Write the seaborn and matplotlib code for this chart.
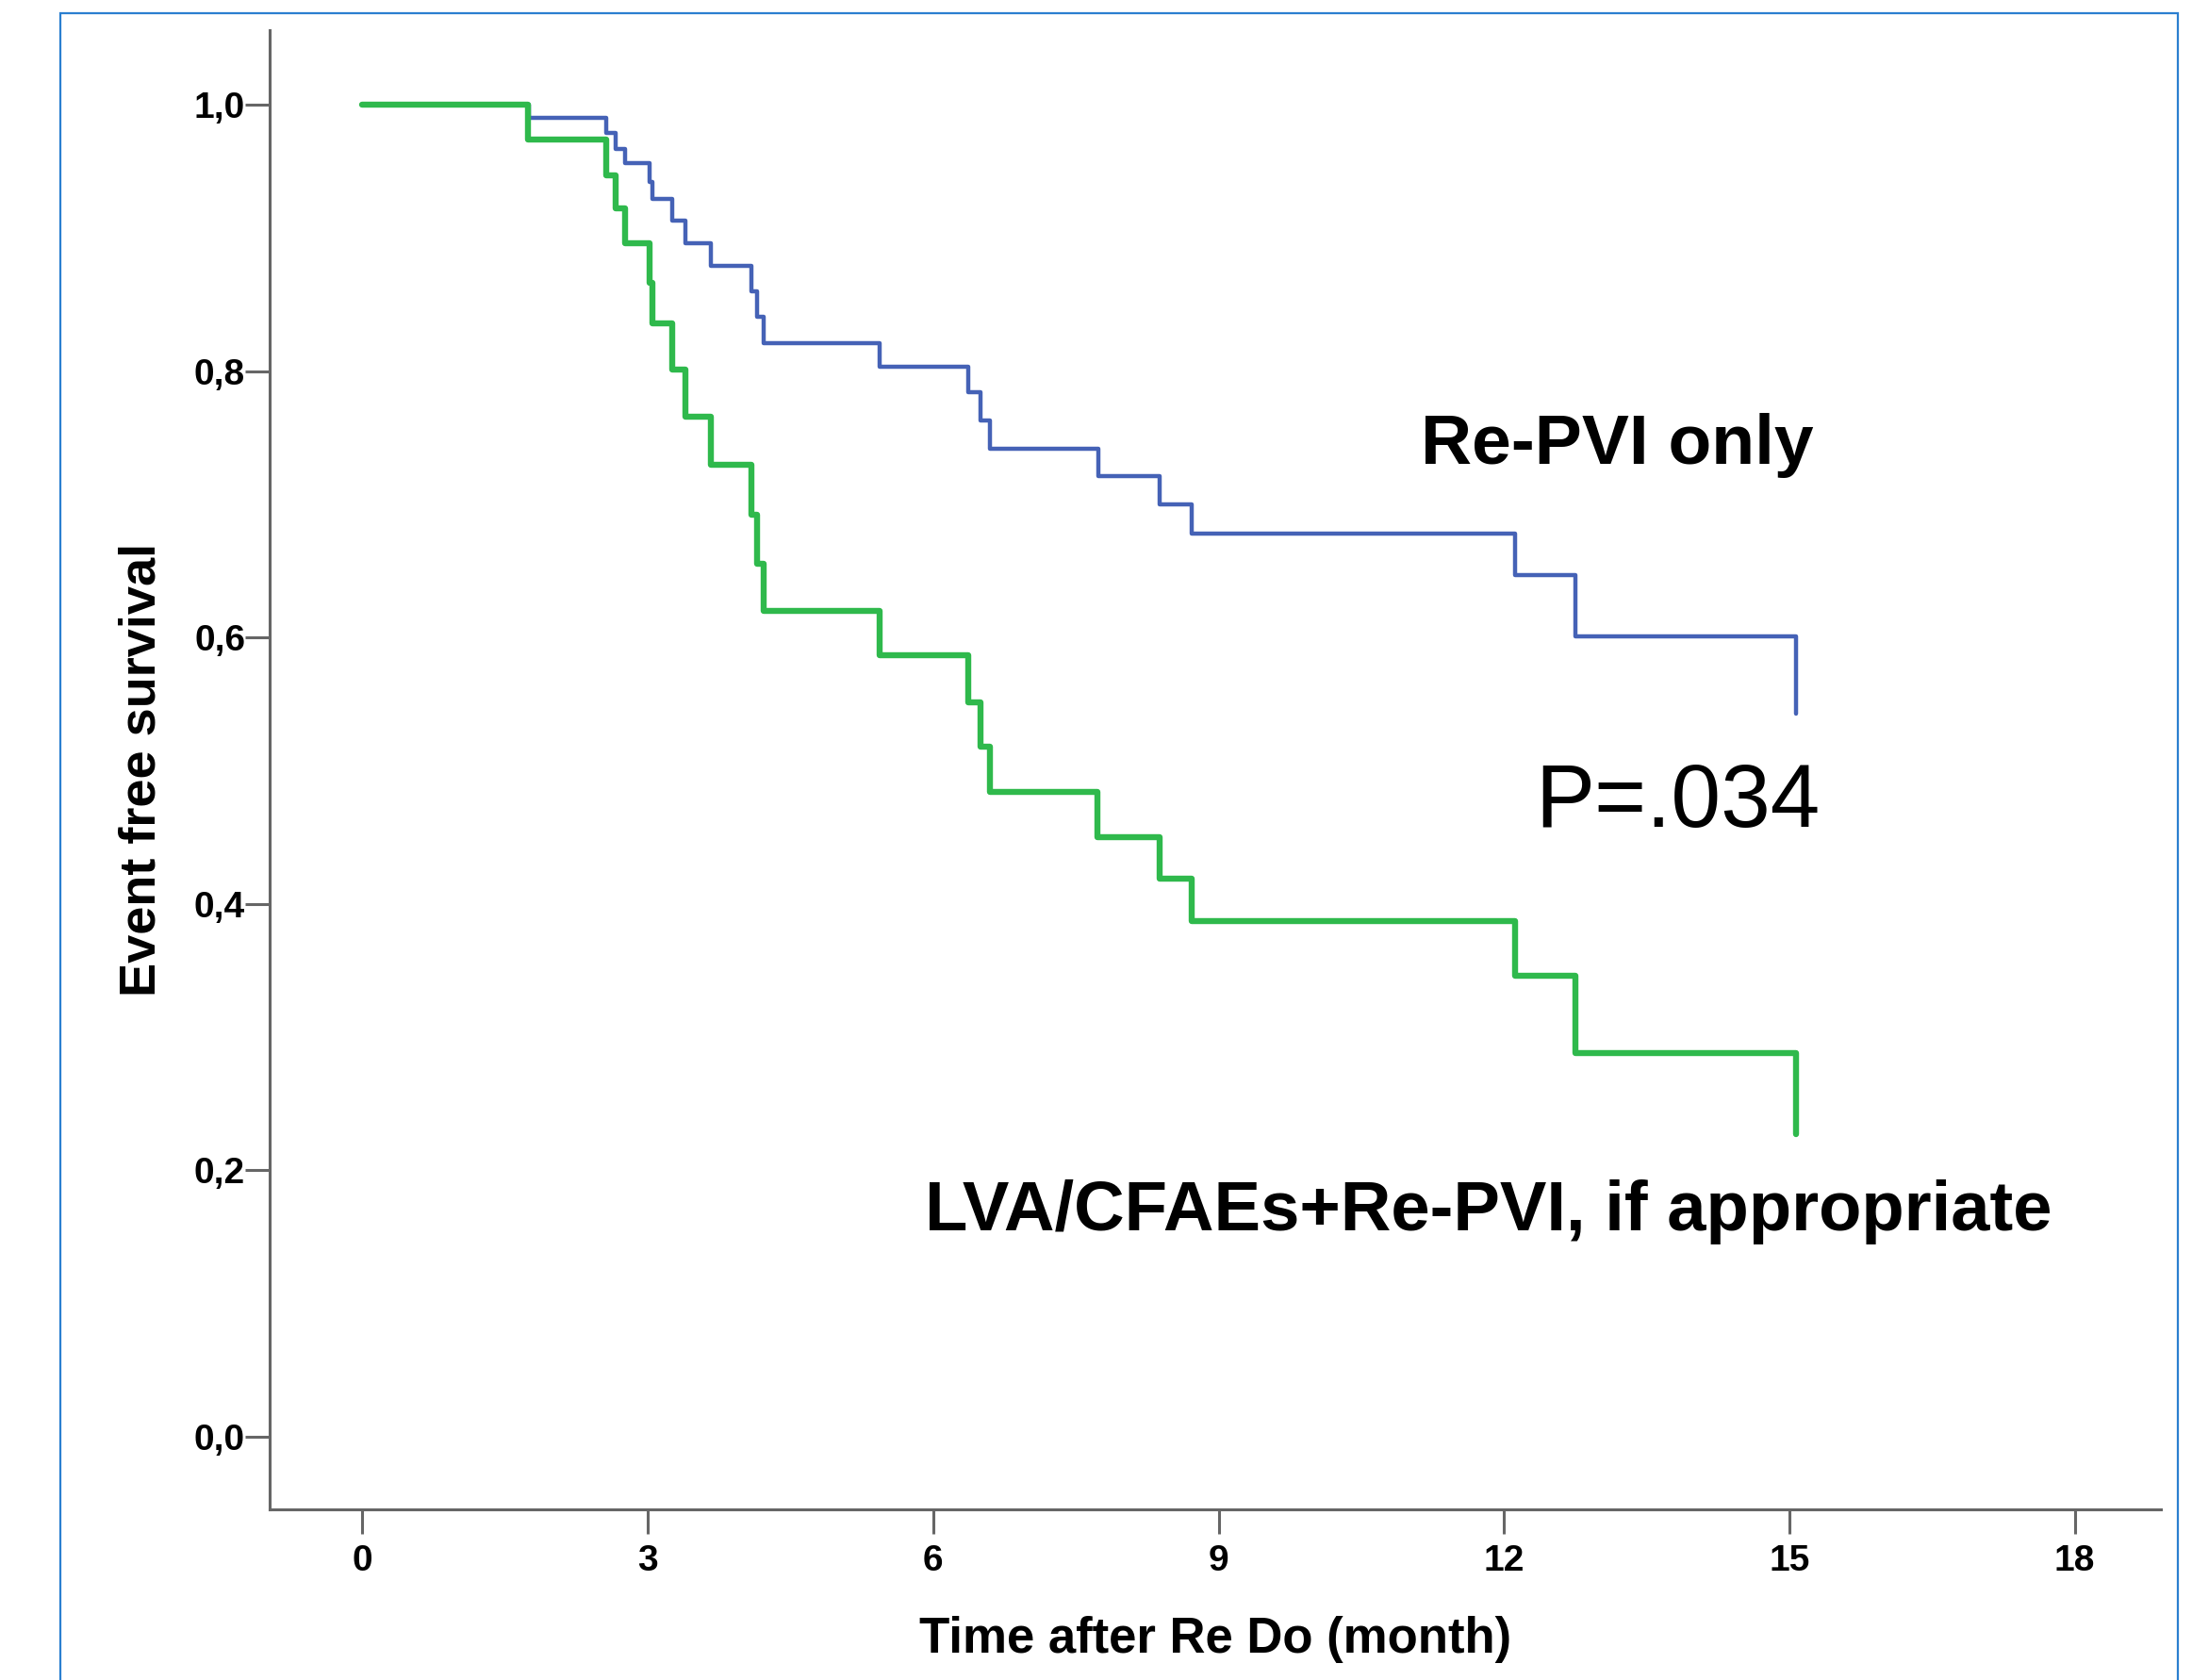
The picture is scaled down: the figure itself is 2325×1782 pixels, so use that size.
import pandas as pd
import matplotlib
matplotlib.use("Agg")
import matplotlib.pyplot as plt
from matplotlib.patches import Rectangle
import seaborn as sns

# Kaplan-Meier steps (months, event free survival)
time_repvi = [0, 1.75, 2.56, 2.66, 2.76, 3.02, 3.05, 3.26, 3.39, 3.66, 4.09, 4.15,
              4.22, 5.44, 6.37, 6.50, 6.60, 7.74, 8.38, 8.72, 12.12, 12.75, 15.07]
surv_repvi = [1.0, 0.990, 0.979, 0.967, 0.956, 0.942, 0.929, 0.913, 0.896, 0.879, 0.860, 0.841,
              0.821, 0.803, 0.784, 0.763, 0.742, 0.721, 0.700, 0.678, 0.647, 0.601, 0.543]

time_lva = [0, 1.74, 2.56, 2.66, 2.76, 3.02, 3.05, 3.26, 3.39, 3.66, 4.09, 4.15,
            4.22, 5.44, 6.37, 6.50, 6.60, 7.73, 8.38, 8.72, 12.12, 12.75, 15.07]
surv_lva = [1.0, 0.974, 0.947, 0.922, 0.896, 0.866, 0.836, 0.801, 0.766, 0.730, 0.692, 0.655,
            0.620, 0.587, 0.551, 0.518, 0.484, 0.450, 0.419, 0.387, 0.346, 0.288, 0.227]

x_ticks = [0, 3, 6, 9, 12, 15, 18]
x_ticklabels = ["0", "3", "6", "9", "12", "15", "18"]
y_ticks = [0.0, 0.2, 0.4, 0.6, 0.8, 1.0]
y_ticklabels = ["0,0", "0,2", "0,4", "0,6", "0,8", "1,0"]

df_repvi = pd.DataFrame({"time": time_repvi, "survival": surv_repvi})
df_lva = pd.DataFrame({"time": time_lva, "survival": surv_lva})

sns.set_style("ticks")
plt.rcParams["font.family"] = ["Liberation Sans", "DejaVu Sans"]
plt.rcParams["text.color"] = "black"

fig = plt.figure(figsize=(23.25, 17.82), dpi=100)
ax = fig.add_axes([0.1230, 0.10157, 0.8628, 0.88047])

sns.lineplot(data=df_repvi, x="time", y="survival", drawstyle="steps-post",
             estimator=None, sort=False, color="#4562b6", linewidth=3.2, ax=ax)
sns.lineplot(data=df_lva, x="time", y="survival", drawstyle="steps-post",
             estimator=None, sort=False, color="#2fb94c", linewidth=4.6, ax=ax)

ax.set_xlim(-0.976, 18.905)
ax.set_ylim(-0.0545, 1.0559)

ax.set_xticks(x_ticks)
ax.set_xticklabels(x_ticklabels, fontweight="bold")
ax.set_yticks(y_ticks)
ax.set_yticklabels(y_ticklabels, fontweight="bold")
ax.tick_params(axis="both", direction="out", length=18.7, width=2.2, color="#666666",
               labelsize=28, labelcolor="black", bottom=True, left=True)
ax.tick_params(axis="y", pad=0)
ax.tick_params(axis="x", pad=8)

for side in ["top", "right"]:
    ax.spines[side].set_visible(False)
for side in ["left", "bottom"]:
    ax.spines[side].set_color("#666666")
    ax.spines[side].set_linewidth(2.2)

ax.set_xlabel("Time after Re Do (month)", fontsize=38, fontweight="bold", labelpad=29,
              color="black")
ax.set_ylabel("Event free survival", fontsize=39, fontweight="bold", labelpad=22,
              color="black")

ax.text(11.13, 0.7306, "Re-PVI only", fontsize=54, fontweight="bold", va="baseline",
        ha="left", color="black")
ax.text(12.33, 0.458, "P=.034", fontsize=68, va="baseline", ha="left", color="black")
ax.text(5.91, 0.155, "LVA/CFAEs+Re-PVI, if appropriate", fontsize=53.5, fontweight="bold",
        va="baseline", ha="left", color="black")

# thin blue frame around the figure (open at the bottom edge)
fig.patches.append(Rectangle((64 / 2325, -0.01), (2310 - 64) / 2325, 1 - 14 / 1782 + 0.01,
                             transform=fig.transFigure, fill=False,
                             edgecolor="#2b7fd0", linewidth=1.6))

plt.savefig("out.png", dpi=100)
